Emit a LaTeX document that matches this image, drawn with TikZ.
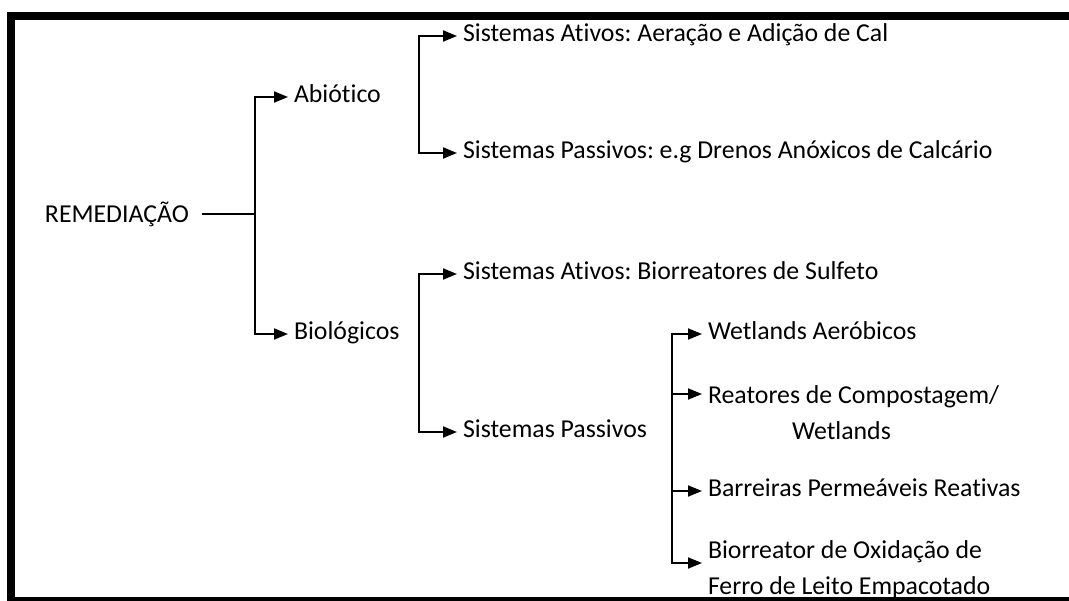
\documentclass[tikz,border=0pt]{standalone}
\usepackage{fontspec}
\setmainfont{Carlito}[Ligatures=NoCommon]
\usepackage{tikz}
\usetikzlibrary{arrows.meta}
\frenchspacing

\begin{document}
\begin{tikzpicture}[x=1pt, y=-1pt, ->, >={Triangle[length=14pt,width=11pt]}, line width=2pt]
    \tikzstyle{lbl}=[anchor=west, inner xsep=5pt, inner ysep=0pt, font=\fontsize{25.8pt}{36pt}\selectfont]
    \tikzstyle{item}=[lbl, text height=17pt, text depth=6pt]
    \tikzstyle{item2}=[lbl, align=left]
    \useasboundingbox (0, 0) rectangle (1069, 601);
    % frame
    \fill (7, 12) rectangle (1069, 20);
    \fill (7, 12) rectangle (15, 601);
    \fill (7, 597) rectangle (1069, 601);

    \node[item, inner xsep=0pt] (rem) at (44, 217) {REMEDIAÇÃO};
    \coordinate (j1) at (255, 214);
    \node[item] (abio) at (288, 97) {Abiótico};
    \node[item] (bio) at (288, 334) {Biológicos};
    \draw[-, shorten <=12pt] (rem.east |- j1) -- (j1);
    \draw (j1) |- (abio);
    \draw (j1) |- (bio);

    \coordinate (j2) at (419, 94);
    \node[item] (aer) at (457, 36) {Sistemas Ativos: Aeração e Adição de Cal};
    \node[item] (dren) at (457, 153) {Sistemas Passivos: e.g Drenos Anóxicos de Calcário};
    \draw (j2) |- (aer);
    \draw (j2) |- (dren);

    \coordinate (j3) at (419, 352);
    \node[item] (sulf) at (457, 274) {Sistemas Ativos: Biorreatores de Sulfeto};
    \node[item] (pass) at (457, 432) {Sistemas Passivos};
    \draw (j3) |- (sulf);
    \draw (j3) |- (pass);

    \coordinate (j4) at (672, 448);
    \node[item] (wa) at (702, 334) {Wetlands Aeróbicos};
    \node[item2] (reat) at (702, 413) {Reatores de Compostagem/\\\hspace*{84pt}Wetlands};
    \node[item] (barr) at (702, 491) {Barreiras Permeáveis Reativas};
    \node[item2] (bior) at (702, 570) {Biorreator de Oxidação de\\Ferro de Leito Empacotado};
    \draw (j4) |- (wa);
    \draw (j4) |- ([yshift=19pt]reat.west);
    \draw (j4) |- (barr);
    \draw (j4) |- ([yshift=7pt]bior.west);
\end{tikzpicture}
\end{document}
